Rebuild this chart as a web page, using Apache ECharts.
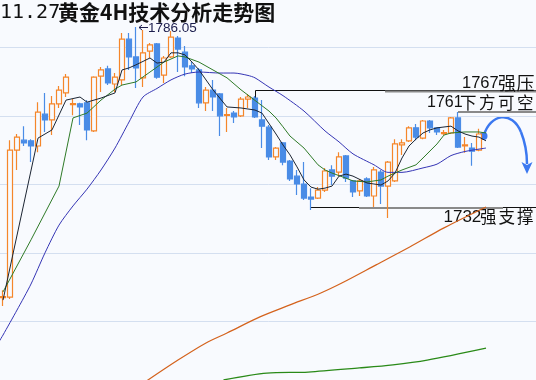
<!DOCTYPE html>
<html>
<head>
<meta charset="utf-8">
<script src="https://cdn.jsdelivr.net/npm/echarts@6/dist/echarts.min.js"></script>
<style>
html, body { margin: 0; padding: 0; background: #f8fafe; }
#main { width: 536px; height: 380px; }
</style>
</head>
<body>
<div id="main"></div>
<script>
// 4H 黄金 K线 (读图估值)
const opens = [1707.0, 1707.2, 1750.1, 1753.0, 1752.8, 1751.3, 1760.6, 1758.9, 1763.6, 1766.8,
    1763.4, 1763.6, 1763.9, 1755.7, 1771.7, 1773.8, 1769.4, 1770.6, 1782.5, 1777.3,
    1771.2, 1779.0, 1781.1, 1772.0, 1777.3, 1782.8, 1778.7, 1774.7, 1773.5, 1763.9,
    1767.6, 1766.5, 1760.2, 1760.9, 1760.1, 1765.0, 1765.3, 1758.9, 1756.8, 1748.1,
    1752.2, 1746.9, 1742.5, 1740.2, 1736.4, 1736.1, 1738.4, 1744.3, 1743.7, 1748.4,
    1741.1, 1738.2, 1741.7, 1736.7, 1743.7, 1739.6, 1741.1, 1751.6, 1752.8, 1756.6,
    1753.6, 1758.6, 1756.6, 1754.9, 1755.1, 1759.5, 1751.3, 1750.7, 1750.1];
const closes = [1707.3, 1750.1, 1753.9, 1752.2, 1751.3, 1761.2, 1758.9, 1763.6, 1767.6, 1771.4,
    1763.7, 1762.7, 1756.0, 1771.4, 1773.5, 1769.7, 1771.4, 1782.5, 1777.3, 1774.1,
    1778.5, 1780.8, 1771.4, 1777.0, 1783.1, 1779.6, 1774.4, 1773.8, 1763.9, 1767.6,
    1765.6, 1760.1, 1760.5, 1759.8, 1765.0, 1765.6, 1759.8, 1757.1, 1748.1, 1750.7,
    1746.6, 1741.7, 1740.2, 1736.1, 1735.8, 1738.4, 1744.0, 1742.5, 1748.1, 1741.9,
    1737.9, 1741.1, 1736.7, 1744.3, 1739.6, 1746.6, 1751.9, 1752.2, 1756.6, 1753.9,
    1758.6, 1756.6, 1755.4, 1755.2, 1759.5, 1751.0, 1751.6, 1749.8, 1754.8];
const lows = [1704.6, 1706.6, 1744.3, 1751.3, 1746.6, 1749.5, 1755.4, 1754.5, 1762.4, 1765.6,
    1760.3, 1757.4, 1753.0, 1755.4, 1767.1, 1769.1, 1767.1, 1769.1, 1773.5, 1768.2,
    1768.5, 1777.0, 1770.9, 1769.7, 1777.0, 1772.9, 1771.7, 1772.6, 1762.4, 1761.5,
    1761.5, 1754.2, 1755.4, 1758.0, 1759.8, 1762.4, 1759.5, 1750.7, 1747.2, 1747.2,
    1745.7, 1741.1, 1737.0, 1735.5, 1732.6, 1735.8, 1737.9, 1739.9, 1742.5, 1740.8,
    1736.4, 1736.7, 1736.4, 1733.5, 1734.4, 1730.3, 1740.8, 1748.7, 1752.5, 1753.0,
    1753.3, 1755.1, 1754.5, 1754.5, 1754.8, 1750.7, 1749.3, 1745.5, 1749.8];
const highs = [1709.2, 1753.0, 1754.8, 1757.1, 1753.3, 1764.1, 1766.8, 1765.9, 1768.8, 1772.3,
    1765.0, 1763.9, 1764.7, 1771.7, 1774.4, 1774.7, 1772.6, 1784.3, 1784.3, 1786.05,
    1785.2, 1781.4, 1781.4, 1777.6, 1784.9, 1783.4, 1780.5, 1775.8, 1774.1, 1768.5,
    1770.6, 1766.8, 1762.4, 1761.5, 1765.6, 1766.5, 1765.9, 1764.7, 1757.4, 1751.0,
    1752.5, 1747.2, 1744.3, 1746.6, 1739.0, 1739.3, 1744.9, 1745.7, 1749.5, 1748.7,
    1741.4, 1741.7, 1742.2, 1745.2, 1744.3, 1746.9, 1753.3, 1753.3, 1757.1, 1757.7,
    1758.9, 1758.9, 1756.8, 1756.0, 1759.8, 1761.2, 1753.9, 1752.2, 1756.3];

// 均线 [K线序号, 价格]
const ma5 = [[0, 1706.3], [5, 1753.6], [7, 1756.0], [9, 1764.7], [11, 1765.6], [12, 1764.1], [14, 1765.3],
    [16, 1766.8], [17, 1773.5], [18, 1774.1], [19, 1775.0], [21, 1777.0], [22, 1775.5], [23, 1775.8],
    [24, 1778.5], [25, 1778.5], [26, 1777.9], [27, 1775.8], [28, 1773.5], [30, 1767.7], [32, 1762.7],
    [34, 1762.4], [36, 1761.8], [37, 1760.9], [39, 1754.8], [40, 1751.6], [41, 1748.7], [42, 1745.2],
    [43, 1741.4], [44, 1739.3], [45, 1738.7], [46, 1739.0], [47, 1739.6], [48, 1742.5], [49, 1743.1],
    [50, 1742.5], [52, 1740.5], [54, 1739.9], [55, 1741.1], [56, 1743.4], [57, 1747.8], [58, 1751.3],
    [59, 1753.3], [60, 1755.1], [61, 1756.0], [62, 1756.6], [64, 1757.1], [65, 1755.7], [66, 1754.8],
    [67, 1754.2], [68, 1753.9], [69, 1752.8]];
const ma10 = [[0, 1708.7], [4, 1723.9], [8, 1739.6], [10, 1759.5], [11, 1760.2], [12, 1760.9], [14, 1764.7],
    [16, 1767.9], [17, 1769.1], [19, 1770.0], [21, 1772.9], [23, 1775.8], [25, 1777.6], [26, 1777.3],
    [28, 1775.8], [30, 1773.5], [32, 1771.2], [34, 1767.7], [36, 1764.6], [38, 1761.5], [39, 1759.5],
    [40, 1756.9], [41, 1754.2], [43, 1750.7], [45, 1745.8], [46, 1744.3], [47, 1743.4], [49, 1741.9],
    [50, 1741.1], [52, 1740.8], [54, 1741.4], [55, 1742.5], [57, 1744.3], [59, 1745.8], [60, 1747.8],
    [62, 1751.9], [63, 1754.5], [64, 1755.1], [66, 1755.4], [68, 1755.4], [69, 1755.1]];
const ma20 = [[-0.5, 1694.4], [0, 1696.1], [2, 1703.4], [4, 1711.0], [6, 1720.1], [8, 1728.2], [10, 1733.8],
    [12, 1738.7], [14, 1744.3], [16, 1750.7], [18, 1758.3], [20, 1765.6], [22, 1768.1], [24, 1770.6],
    [26, 1772.3], [28, 1772.9], [31, 1772.6], [33, 1772.6], [35, 1771.9], [36, 1771.2], [38, 1768.5],
    [40, 1766.0], [43, 1761.5], [46, 1755.7], [48, 1752.5], [50, 1749.0], [53, 1745.8], [55, 1743.6],
    [57, 1743.6], [60, 1744.9], [62, 1746.0], [64, 1748.5], [66, 1749.7], [68, 1750.4], [69, 1750.7]];
const ma60 = [[20, 1682.0], [25, 1688.8], [29, 1693.8], [32, 1696.7], [36.7, 1701.4], [41, 1704.9],
    [45.4, 1708.4], [48.4, 1711.3], [53.3, 1716.6], [58.1, 1721.8], [63, 1727.4], [69, 1733.5]];
const ma120 = [[31.5, 1683.0], [37.7, 1685.0], [43.6, 1685.3], [50.9, 1686.5], [55.7, 1687.4],
    [60.6, 1688.8], [69, 1692.3]];

const slots = 77;

var myChart = echarts.init(document.getElementById('main'));
let candles = opens.map((o, i) => [o, closes[i], lows[i], highs[i]]);
let cats = [];
for (let i = 0; i < slots; i++) cats.push(String(i));

function maLine (name, data, color, width, smooth) {
    return {
        name: name,
        type: 'line',
        xAxisIndex: 1,
        data: data,
        showSymbol: false,
        smooth: smooth,
        lineStyle: { color: color, width: width }
    };
}

// 标注文字: 数字 + 逐字排布的中文
function label (digits, x, cjk, cx, step, y, size, cjkSize) {
    let items = [{
        type: 'text',
        style: { text: digits, x: x, y: y, fill: '#111', font: size + 'px "Liberation Sans"', textVerticalAlign: 'middle' }
    }];
    cjk.split('').forEach((ch, k) => {
        items.push({
            type: 'text',
            style: { text: ch, x: cx + k * step, y: y, fill: '#111', font: cjkSize + 'px "Noto Sans CJK SC"', textVerticalAlign: 'middle' }
        });
    });
    return items;
}

let graphics = [
    // 标题
    { type: 'text', style: { text: '11.27', x: 0, y: 13, fill: '#111', font: '20px "DejaVu Sans Mono"', textVerticalAlign: 'middle' } },
    { type: 'text', style: { text: '黄金4H技术分析走势图', x: 58, y: 12.5, fill: '#111', font: 'bold 21px "Noto Sans CJK SC"', textVerticalAlign: 'middle' } },
    // 最高点
    { type: 'line', shape: { x1: 139, y1: 27.5, x2: 148, y2: 27.5 }, style: { stroke: '#1b1d4d', lineWidth: 1 } },
    { type: 'polyline', shape: { points: [[142, 25], [139, 27.5], [142, 30]] }, style: { stroke: '#1b1d4d', lineWidth: 1, fill: null } },
    { type: 'text', style: { text: '1786.05', x: 148, y: 28, fill: '#1b1d4d', font: '13.5px "Liberation Sans"', textVerticalAlign: 'middle' } },
    // 1767 压力线
    { type: 'polyline', shape: { points: [[255.5, 98], [255.5, 90.5], [536, 90.5]] }, style: { stroke: '#111', lineWidth: 1, fill: null } },
    { type: 'line', shape: { x1: 385, y1: 91.5, x2: 536, y2: 91.5 }, style: { stroke: '#8a8a8a', lineWidth: 2 } },
    // 1761 下划线
    { type: 'line', shape: { x1: 458, y1: 112, x2: 536, y2: 112 }, style: { stroke: '#8a8a8a', lineWidth: 2 } },
    // 1732 支撑线
    { type: 'line', shape: { x1: 311, y1: 207.5, x2: 536, y2: 207.5 }, style: { stroke: '#111', lineWidth: 1 } },
    { type: 'line', shape: { x1: 359, y1: 208, x2: 503, y2: 208 }, style: { stroke: '#8a8a8a', lineWidth: 2 } },
    // 蓝色箭头
    {
        type: 'bezierCurve',
        shape: { x1: 484, y1: 135, cpx1: 490, cpy1: 114, cpx2: 512, cpy2: 110, x2: 521, y2: 132 },
        style: { stroke: '#3b78f0', lineWidth: 2.5, fill: null }
    },
    {
        type: 'bezierCurve',
        shape: { x1: 521, y1: 132, cpx1: 525, cpy1: 142, cpx2: 527, cpy2: 152, x2: 527, y2: 164 },
        style: { stroke: '#3b78f0', lineWidth: 2.5, fill: null }
    },
    { type: 'circle', shape: { cx: 483.5, cy: 136, r: 4 }, style: { fill: '#3b78f0' } },
    { type: 'polygon', shape: { points: [[521.5, 162], [527, 174], [532.5, 162], [527, 165]] }, style: { fill: '#3b78f0' } }
].concat(
    label('1767', 462, '强压', 498, 18.5, 83.5, 16.5, 18),
    label('1761', 427, '下方可空', 460, 19, 102.5, 16, 16.5),
    label('1732', 443.5, '强支撑', 480, 18.5, 217, 17, 16.5)
);

let option = {
    animation: false,
    backgroundColor: '#f8fafe',
    grid: { left: -0.5, right: -2.5, top: -20.8, bottom: -10.2, outerBoundsMode: 'none' },
    xAxis: [
        {
            type: 'category',
            data: cats,
            boundaryGap: true,
            show: false
        },
        {
            type: 'value',
            min: -0.5,
            max: slots - 0.5,
            show: false
        }
    ],
    yAxis: [
        {
            type: 'value',
            min: 1680,
            max: 1800,
            interval: 20,
            axisLine: { show: false },
            axisTick: { show: false },
            axisLabel: { show: false },
            splitLine: { show: true, lineStyle: { color: '#d4dff0', width: 1 } }
        }
    ],
    series: [
        maLine('MA120', ma120, '#2a8a18', 1.3, 0.3),
        maLine('MA60', ma60, '#d4621c', 1.2, 0.3),
        {
            name: 'K',
            type: 'candlestick',
            data: candles,
            barWidth: 5,
            itemStyle: {
                color: '#f8fafe',
                color0: '#4a8ce6',
                borderColor: '#f5862a',
                borderColor0: '#4a8ce6',
                borderWidth: 1.2
            }
        },
        maLine('MA20', ma20, '#3535b5', 1, 0.25),
        maLine('MA10', ma10, '#2f7a28', 1, false),
        maLine('MA5', ma5, '#1c2533', 1, false)
    ],
    graphic: graphics
};
myChart.setOption(option);
</script>
</body>
</html>
